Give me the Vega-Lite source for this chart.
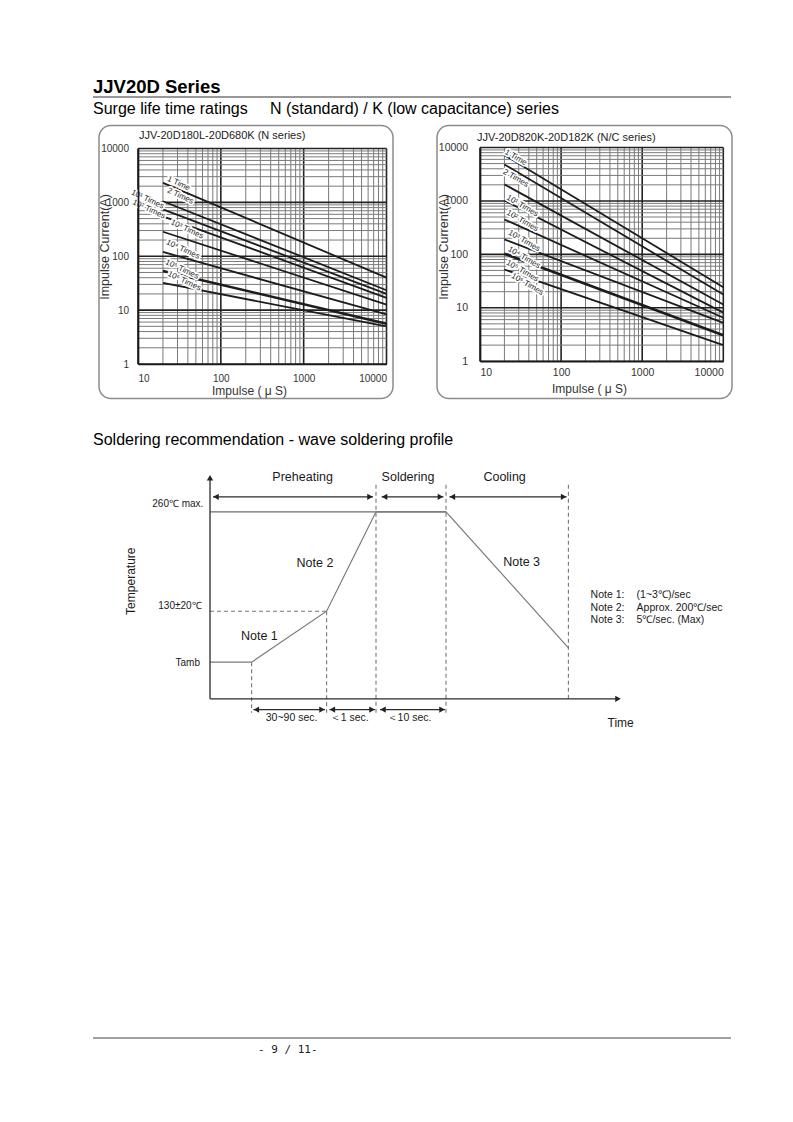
{
  "$schema": "https://vega.github.io/schema/vega-lite/v6.json",
  "padding": {"left": 93, "top": 77.5, "right": 0, "bottom": 0},
  "background": "white",
  "spacing": 0,
  "datasets": {
    "xgrid": [{"v":10},{"v":20},{"v":30},{"v":40},{"v":50},{"v":60},{"v":70},{"v":80},{"v":90},{"v":100},{"v":200},{"v":300},{"v":400},{"v":500},{"v":600},{"v":700},{"v":800},{"v":900},{"v":1000},{"v":2000},{"v":3000},{"v":4000},{"v":5000},{"v":6000},{"v":7000},{"v":8000},{"v":9000},{"v":10000}],
    "ygrid": [{"v":1},{"v":2},{"v":3},{"v":4},{"v":5},{"v":6},{"v":7},{"v":8},{"v":9},{"v":10},{"v":20},{"v":30},{"v":40},{"v":50},{"v":60},{"v":70},{"v":80},{"v":90},{"v":100},{"v":200},{"v":300},{"v":400},{"v":500},{"v":600},{"v":700},{"v":800},{"v":900},{"v":1000},{"v":2000},{"v":3000},{"v":4000},{"v":5000},{"v":6000},{"v":7000},{"v":8000},{"v":9000},{"v":10000}],
    "curvesN": [
      {"series":"1 Time","x":20,"y":2300},{"series":"1 Time","x":10000,"y":40},
      {"series":"2 Times","x":20,"y":1050},{"series":"2 Times","x":10000,"y":23.4},
      {"series":"10¹ Times","x":20,"y":740},{"series":"10¹ Times","x":10000,"y":20.1},
      {"series":"10² Times","x":20,"y":550},{"series":"10² Times","x":10000,"y":16.9},
      {"series":"10³ Times","x":20,"y":285},{"series":"10³ Times","x":10000,"y":12.7},
      {"series":"10⁴ Times","x":20,"y":120},{"series":"10⁴ Times","x":10000,"y":8.3},
      {"series":"10⁵ Times","x":20,"y":53},{"series":"10⁵ Times","x":10000,"y":5.6},
      {"series":"10⁶ Times","x":20,"y":32},{"series":"10⁶ Times","x":10000,"y":5.0}
    ],
    "curvesNC": [
      {"series":"1 Time","x":20,"y":7200},{"series":"1 Time","x":10000,"y":24.3},
      {"series":"2 Times","x":20,"y":4820},{"series":"2 Times","x":10000,"y":17.7},
      {"series":"10¹ Times","x":20,"y":2040},{"series":"10¹ Times","x":10000,"y":11.5},
      {"series":"10² Times","x":20,"y":1020},{"series":"10² Times","x":10000,"y":8.1},
      {"series":"10³ Times","x":20,"y":450},{"series":"10³ Times","x":10000,"y":6.5},
      {"series":"10⁴ Times","x":20,"y":190},{"series":"10⁴ Times","x":10000,"y":5.2},
      {"series":"10⁵ Times","x":20,"y":103},{"series":"10⁵ Times","x":10000,"y":3.07},
      {"series":"10⁶ Times","x":20,"y":52},{"series":"10⁶ Times","x":10000,"y":2.0}
    ],
    "labelsN": [
      {"label":"1 Time","x":30.9,"y":2213},
      {"label":"2 Times","x":32.4,"y":1303},
      {"label":"10¹ Times","x":13.0,"y":1130},
      {"label":"10² Times","x":13.5,"y":738},
      {"label":"10³ Times","x":39,"y":314},
      {"label":"10⁴ Times","x":34.8,"y":133},
      {"label":"10⁵ Times","x":33.9,"y":56.8},
      {"label":"10⁶ Times","x":36.1,"y":34.4}
    ],
    "labelsNC": [
      {"label":"1 Time","x":27.5,"y":6440},
      {"label":"2 Times","x":27.5,"y":2640},
      {"label":"10¹ Times","x":33.2,"y":799},
      {"label":"10² Times","x":33.2,"y":419},
      {"label":"10³ Times","x":34.9,"y":177},
      {"label":"10⁴ Times","x":34.9,"y":86},
      {"label":"10⁵ Times","x":33.2,"y":48.4},
      {"label":"10⁶ Times","x":38.3,"y":27.3}
    ]
  },
  "vconcat": [
    {
      "width": 638, "height": 1,
      "view": {"fill": "#333333", "stroke": null},
      "data": {"values": []},
      "mark": "point",
      "title": {"text": "JJV20D Series", "anchor": "start", "orient": "top", "offset": 0, "fontSize": 18.5, "fontWeight": "bold", "color": "#000000"}
    },
    {"width": 1, "height": 2.5, "data": {"values": []}, "mark": "point"},
    {
      "title": {"text": "Surge life time ratings\u00a0\u00a0\u00a0\u00a0\u00a0N (standard) / K (low capacitance) series", "anchor": "start", "orient": "top", "offset": 8, "fontSize": 16, "fontWeight": "normal", "color": "#000000"},
      "spacing": 3,
      "hconcat": [
        {"width": 1, "height": 273, "data": {"values": []}, "mark": "point"},
        {
          "spacing": 42,
          "hconcat": [
            {
              "width": 294, "height": 273,
              "view": {"stroke": "#8c8c8c", "strokeWidth": 1.5, "cornerRadius": 12, "fill": "white"},
              "resolve": {"axis": {"x": "independent", "y": "independent"}},
              "layer": [
                {
                  "data": {"name": "xgrid"}, "mark": {"type": "rule"},
                  "encoding": {
                    "x": {"field": "v", "type": "quantitative", "scale": {"type": "log", "domain": [10, 10000], "range": [39, 287.5], "nice": false},
                      "axis": {"orient": "bottom", "values": [10, 100, 1000, 10000], "format": "d", "grid": false, "ticks": false, "offset": -34.5, "zindex": 1, "domainColor": "#1a1a1a", "domainWidth": 1.7, "labelFontSize": 10, "labelColor": "#333333", "labelPadding": 9, "labelFlush": true, "title": "Impulse ( μ S)", "titleFontSize": 12, "titleFontWeight": "normal", "titleColor": "#333333", "titlePadding": 2, "titleX": 150}},
                    "y": {"datum": 1, "type": "quantitative", "scale": {"type": "log", "domain": [1, 10000], "range": [238.5, 23], "nice": false}, "axis": null},
                    "y2": {"datum": 10000},
                    "color": {"condition": {"test": "datum.v==10||datum.v==100||datum.v==1000||datum.v==10000", "value": "#222222"}, "value": "#7a7a7a"},
                    "strokeWidth": {"condition": {"test": "datum.v==10||datum.v==100||datum.v==1000||datum.v==10000", "value": 1.6}, "value": 1}
                  }
                },
                {
                  "data": {"name": "ygrid"}, "mark": {"type": "rule"},
                  "encoding": {
                    "y": {"field": "v", "type": "quantitative", "scale": {"type": "log", "domain": [1, 10000], "range": [238.5, 23], "nice": false},
                      "axis": {"orient": "left", "values": [1, 10, 100, 1000, 10000], "format": "d", "grid": false, "ticks": false, "offset": -39, "zindex": 1, "domainColor": "#1a1a1a", "domainWidth": 1.7, "labelFontSize": 10, "labelColor": "#333333", "labelPadding": 9.5, "title": "Impulse Current(A)", "titleFontSize": 12.5, "titleFontWeight": "normal", "titleColor": "#333333", "titlePadding": -10.5, "titleY": 121}},
                    "x": {"datum": 10, "type": "quantitative", "scale": {"type": "log", "domain": [10, 10000], "range": [39, 287.5], "nice": false}, "axis": null},
                    "x2": {"datum": 10000},
                    "color": {"condition": {"test": "datum.v==1||datum.v==10||datum.v==100||datum.v==1000||datum.v==10000", "value": "#222222"}, "value": "#7a7a7a"},
                    "strokeWidth": {"condition": {"test": "datum.v==1||datum.v==10||datum.v==100||datum.v==1000||datum.v==10000", "value": 1.6}, "value": 1}
                  }
                },
                {
                  "data": {"name": "curvesN"}, "mark": {"type": "line", "color": "#1c1c1c"},
                  "encoding": {
                    "x": {"field": "x", "type": "quantitative", "scale": {"type": "log", "domain": [10, 10000], "range": [39, 287.5], "nice": false}, "axis": null},
                    "y": {"field": "y", "type": "quantitative", "scale": {"type": "log", "domain": [1, 10000], "range": [238.5, 23], "nice": false}, "axis": null},
                    "detail": {"field": "series"},
                    "strokeWidth": {"condition": {"test": "datum.series==='10⁵ Times'", "value": 2.6}, "value": 1.8}
                  }
                },
                {
                  "data": {"name": "labelsN"},
                  "mark": {"type": "text", "angle": 25, "fontSize": 8, "fill": "white", "stroke": "white", "strokeWidth": 3.5, "strokeJoin": "round"},
                  "encoding": {
                    "x": {"field": "x", "type": "quantitative", "scale": {"type": "log", "domain": [10, 10000], "range": [39, 287.5], "nice": false}, "axis": null},
                    "y": {"field": "y", "type": "quantitative", "scale": {"type": "log", "domain": [1, 10000], "range": [238.5, 23], "nice": false}, "axis": null},
                    "text": {"field": "label"}
                  }
                },
                {
                  "data": {"name": "labelsN"},
                  "mark": {"type": "text", "angle": 25, "fontSize": 8, "fill": "#222222"},
                  "encoding": {
                    "x": {"field": "x", "type": "quantitative", "scale": {"type": "log", "domain": [10, 10000], "range": [39, 287.5], "nice": false}, "axis": null},
                    "y": {"field": "y", "type": "quantitative", "scale": {"type": "log", "domain": [1, 10000], "range": [238.5, 23], "nice": false}, "axis": null},
                    "text": {"field": "label"}
                  }
                },
                {
                  "data": {"values": [{"label": "JJV-20D180L-20D680K (N series)", "x": 10.3, "y": 17060}]},
                  "mark": {"type": "text", "align": "left", "baseline": "middle", "fontSize": 11, "fill": "#222222"},
                  "encoding": {
                    "x": {"field": "x", "type": "quantitative", "scale": {"type": "log", "domain": [10, 10000], "range": [39, 287.5], "nice": false}, "axis": null},
                    "y": {"field": "y", "type": "quantitative", "scale": {"type": "log", "domain": [1, 10000], "range": [238.5, 23], "nice": false}, "axis": null},
                    "text": {"field": "label"}
                  }
                }
              ]
            },
            {
              "width": 295, "height": 273,
              "view": {"stroke": "#8c8c8c", "strokeWidth": 1.5, "cornerRadius": 12, "fill": "white"},
              "resolve": {"axis": {"x": "independent", "y": "independent"}},
              "layer": [
                {
                  "data": {"name": "xgrid"}, "mark": {"type": "rule"},
                  "encoding": {
                    "x": {"field": "v", "type": "quantitative", "scale": {"type": "log", "domain": [10, 10000], "range": [43, 286.3], "nice": false},
                      "axis": {"orient": "bottom", "values": [10, 100, 1000, 10000], "format": "d", "grid": false, "ticks": false, "offset": -37.3, "zindex": 1, "domainColor": "#1a1a1a", "domainWidth": 1.7, "labelFontSize": 10.5, "labelColor": "#333333", "labelPadding": 6.5, "labelFlush": true, "title": "Impulse ( μ S)", "titleFontSize": 12, "titleFontWeight": "normal", "titleColor": "#333333", "titlePadding": 5, "titleX": 152}},
                    "y": {"datum": 1, "type": "quantitative", "scale": {"type": "log", "domain": [1, 10000], "range": [235.7, 22], "nice": false}, "axis": null},
                    "y2": {"datum": 10000},
                    "color": {"condition": {"test": "datum.v==10||datum.v==100||datum.v==1000||datum.v==10000", "value": "#222222"}, "value": "#7a7a7a"},
                    "strokeWidth": {"condition": {"test": "datum.v==10||datum.v==100||datum.v==1000||datum.v==10000", "value": 1.6}, "value": 1}
                  }
                },
                {
                  "data": {"name": "ygrid"}, "mark": {"type": "rule"},
                  "encoding": {
                    "y": {"field": "v", "type": "quantitative", "scale": {"type": "log", "domain": [1, 10000], "range": [235.7, 22], "nice": false},
                      "axis": {"orient": "left", "values": [1, 10, 100, 1000, 10000], "format": "d", "grid": false, "ticks": false, "offset": -43, "zindex": 1, "domainColor": "#1a1a1a", "domainWidth": 1.7, "labelFontSize": 10.5, "labelColor": "#333333", "labelPadding": 12.5, "title": "Impulse Current(A)", "titleFontSize": 12.5, "titleFontWeight": "normal", "titleColor": "#333333", "titlePadding": -12, "titleY": 121}},
                    "x": {"datum": 10, "type": "quantitative", "scale": {"type": "log", "domain": [10, 10000], "range": [43, 286.3], "nice": false}, "axis": null},
                    "x2": {"datum": 10000},
                    "color": {"condition": {"test": "datum.v==1||datum.v==10||datum.v==100||datum.v==1000||datum.v==10000", "value": "#222222"}, "value": "#7a7a7a"},
                    "strokeWidth": {"condition": {"test": "datum.v==1||datum.v==10||datum.v==100||datum.v==1000||datum.v==10000", "value": 1.6}, "value": 1}
                  }
                },
                {
                  "data": {"name": "curvesNC"}, "mark": {"type": "line", "color": "#1c1c1c"},
                  "encoding": {
                    "x": {"field": "x", "type": "quantitative", "scale": {"type": "log", "domain": [10, 10000], "range": [43, 286.3], "nice": false}, "axis": null},
                    "y": {"field": "y", "type": "quantitative", "scale": {"type": "log", "domain": [1, 10000], "range": [235.7, 22], "nice": false}, "axis": null},
                    "detail": {"field": "series"},
                    "strokeWidth": {"condition": {"test": "datum.series==='10⁵ Times'", "value": 2.6}, "value": 1.8}
                  }
                },
                {
                  "data": {"name": "labelsNC"},
                  "mark": {"type": "text", "angle": 30, "fontSize": 8, "fill": "white", "stroke": "white", "strokeWidth": 3.5, "strokeJoin": "round"},
                  "encoding": {
                    "x": {"field": "x", "type": "quantitative", "scale": {"type": "log", "domain": [10, 10000], "range": [43, 286.3], "nice": false}, "axis": null},
                    "y": {"field": "y", "type": "quantitative", "scale": {"type": "log", "domain": [1, 10000], "range": [235.7, 22], "nice": false}, "axis": null},
                    "text": {"field": "label"}
                  }
                },
                {
                  "data": {"name": "labelsNC"},
                  "mark": {"type": "text", "angle": 30, "fontSize": 8, "fill": "#222222"},
                  "encoding": {
                    "x": {"field": "x", "type": "quantitative", "scale": {"type": "log", "domain": [10, 10000], "range": [43, 286.3], "nice": false}, "axis": null},
                    "y": {"field": "y", "type": "quantitative", "scale": {"type": "log", "domain": [1, 10000], "range": [235.7, 22], "nice": false}, "axis": null},
                    "text": {"field": "label"}
                  }
                },
                {
                  "data": {"values": [{"label": "JJV-20D820K-20D182K (N/C series)", "x": 9.2, "y": 15250}]},
                  "mark": {"type": "text", "align": "left", "baseline": "middle", "fontSize": 11, "fill": "#222222"},
                  "encoding": {
                    "x": {"field": "x", "type": "quantitative", "scale": {"type": "log", "domain": [10, 10000], "range": [43, 286.3], "nice": false}, "axis": null},
                    "y": {"field": "y", "type": "quantitative", "scale": {"type": "log", "domain": [1, 10000], "range": [235.7, 22], "nice": false}, "axis": null},
                    "text": {"field": "label"}
                  }
                }
              ]
            }
          ]
        }
      ]
    },
    {"width": 1, "height": 32, "data": {"values": []}, "mark": "point"},
    {
      "width": 640, "height": 285,
      "title": {"text": "Soldering recommendation - wave soldering profile", "anchor": "start", "orient": "top", "offset": 7, "fontSize": 16, "fontWeight": "normal", "color": "#000000"},
      "layer": [
        {
          "data": {"values": [
            {"t":0,"t2":58.3,"T":43.8,"T2":43.8},
            {"t":20.8,"t2":20.8,"T":18.3,"T2":-7},
            {"t":58.3,"t2":58.3,"T":43.8,"T2":-7},
            {"t":83,"t2":83,"T":107,"T2":-7},
            {"t":118,"t2":118,"T":107,"T2":-7},
            {"t":179.2,"t2":179.2,"T":107,"T2":0}
          ]},
          "mark": {"type": "rule", "color": "#777777", "strokeWidth": 1.1, "strokeDash": [4, 3]},
          "encoding": {
            "x": {"field": "t", "type": "quantitative", "scale": {"domain": [-58.5, 261.5], "nice": false, "zero": false}, "axis": null},
            "x2": {"field": "t2"},
            "y": {"field": "T", "type": "quantitative", "scale": {"domain": [-20.35, 122.15], "nice": false, "zero": false}, "axis": null},
            "y2": {"field": "T2"}
          }
        },
        {
          "data": {"values": [{"t":0,"t2":118,"T":93.5,"T2":93.5}]},
          "mark": {"type": "rule", "color": "#6e6e6e", "strokeWidth": 1.2},
          "encoding": {
            "x": {"field": "t", "type": "quantitative", "scale": {"domain": [-58.5, 261.5], "nice": false, "zero": false}, "axis": null},
            "x2": {"field": "t2"},
            "y": {"field": "T", "type": "quantitative", "scale": {"domain": [-20.35, 122.15], "nice": false, "zero": false}, "axis": null},
            "y2": {"field": "T2"}
          }
        },
        {
          "data": {"values": [
            {"i":0,"t":0,"T":18.3},{"i":1,"t":20.8,"T":18.3},{"i":2,"t":58.3,"T":43.8},
            {"i":3,"t":83,"T":93.5},{"i":4,"t":118,"T":93.5},{"i":5,"t":179.2,"T":25.5}
          ]},
          "mark": {"type": "line", "color": "#7a7a7a", "strokeWidth": 1.2},
          "encoding": {
            "x": {"field": "t", "type": "quantitative", "scale": {"domain": [-58.5, 261.5], "nice": false, "zero": false}, "axis": null},
            "y": {"field": "T", "type": "quantitative", "scale": {"domain": [-20.35, 122.15], "nice": false, "zero": false}, "axis": null},
            "order": {"field": "i"}
          }
        },
        {
          "data": {"values": [
            {"t":0,"t2":0,"T":0,"T2":110.5},
            {"t":0,"t2":204,"T":0,"T2":0},
            {"t":1.5,"t2":81.5,"T":101,"T2":101},
            {"t":85.8,"t2":116.7,"T":101,"T2":101},
            {"t":119.7,"t2":178.3,"T":101,"T2":101},
            {"t":21.7,"t2":57.5,"T":-5.4,"T2":-5.4},
            {"t":59.7,"t2":82.5,"T":-5.4,"T2":-5.4},
            {"t":85,"t2":117.5,"T":-5.4,"T2":-5.4}
          ]},
          "mark": {"type": "rule", "color": "#2a2a2a", "strokeWidth": 1.3},
          "encoding": {
            "x": {"field": "t", "type": "quantitative", "scale": {"domain": [-58.5, 261.5], "nice": false, "zero": false}, "axis": null},
            "x2": {"field": "t2"},
            "y": {"field": "T", "type": "quantitative", "scale": {"domain": [-20.35, 122.15], "nice": false, "zero": false}, "axis": null},
            "y2": {"field": "T2"}
          }
        },
        {
          "data": {"values": [
            {"t":0,"T":110.5,"dir":"up"},{"t":204,"T":0,"dir":"right"},
            {"t":3,"T":101,"dir":"left"},{"t":80,"T":101,"dir":"right"},
            {"t":87.3,"T":101,"dir":"left"},{"t":115.2,"T":101,"dir":"right"},
            {"t":121.2,"T":101,"dir":"left"},{"t":176.8,"T":101,"dir":"right"},
            {"t":23.2,"T":-5.4,"dir":"left"},{"t":56,"T":-5.4,"dir":"right"},
            {"t":61.2,"T":-5.4,"dir":"left"},{"t":81,"T":-5.4,"dir":"right"},
            {"t":86.5,"T":-5.4,"dir":"left"},{"t":116,"T":-5.4,"dir":"right"}
          ]},
          "mark": {"type": "point", "filled": true, "size": 40, "color": "#222222", "opacity": 1},
          "encoding": {
            "x": {"field": "t", "type": "quantitative", "scale": {"domain": [-58.5, 261.5], "nice": false, "zero": false}, "axis": null},
            "y": {"field": "T", "type": "quantitative", "scale": {"domain": [-20.35, 122.15], "nice": false, "zero": false}, "axis": null},
            "shape": {"field": "dir", "type": "nominal", "scale": {"domain": ["up", "right", "left"], "range": ["triangle-up", "triangle-right", "triangle-left"]}, "legend": null}
          }
        },
        {
          "data": {"values": [
            {"label":"Preheating","t":46.3,"T":111},
            {"label":"Soldering","t":99,"T":111},
            {"label":"Cooling","t":147.3,"T":111},
            {"label":"Note 2","t":52.5,"T":68},
            {"label":"Note 1","t":24.7,"T":31.3},
            {"label":"Note 3","t":155.8,"T":68.3}
          ]},
          "mark": {"type": "text", "align": "center", "baseline": "middle", "fontSize": 12.5, "fill": "#1a1a1a"},
          "encoding": {
            "x": {"field": "t", "type": "quantitative", "scale": {"domain": [-58.5, 261.5], "nice": false, "zero": false}, "axis": null},
            "y": {"field": "T", "type": "quantitative", "scale": {"domain": [-20.35, 122.15], "nice": false, "zero": false}, "axis": null},
            "text": {"field": "label"}
          }
        },
        {
          "data": {"values": [
            {"label":"260℃ max.","t":-3.3,"T":97.2},
            {"label":"130±20℃","t":-4.2,"T":46.3},
            {"label":"Tamb","t":-5,"T":18}
          ]},
          "mark": {"type": "text", "align": "right", "baseline": "middle", "fontSize": 10, "fill": "#1a1a1a"},
          "encoding": {
            "x": {"field": "t", "type": "quantitative", "scale": {"domain": [-58.5, 261.5], "nice": false, "zero": false}, "axis": null},
            "y": {"field": "T", "type": "quantitative", "scale": {"domain": [-20.35, 122.15], "nice": false, "zero": false}, "axis": null},
            "text": {"field": "label"}
          }
        },
        {
          "data": {"values": [
            {"label":"Note 1:","t":190.3,"T":51.7},
            {"label":"(1~3℃)/sec","t":213.3,"T":51.7},
            {"label":"Note 2:","t":190.3,"T":45.5},
            {"label":"Approx. 200℃/sec","t":213.3,"T":45.5},
            {"label":"Note 3:","t":190.3,"T":39.3},
            {"label":"5℃/sec. (Max)","t":213.3,"T":39.3}
          ]},
          "mark": {"type": "text", "align": "left", "baseline": "middle", "fontSize": 10.5, "fill": "#1a1a1a"},
          "encoding": {
            "x": {"field": "t", "type": "quantitative", "scale": {"domain": [-58.5, 261.5], "nice": false, "zero": false}, "axis": null},
            "y": {"field": "T", "type": "quantitative", "scale": {"domain": [-20.35, 122.15], "nice": false, "zero": false}, "axis": null},
            "text": {"field": "label"}
          }
        },
        {
          "data": {"values": [
            {"label":"30~90 sec.","t":40.8,"T":-9.5},
            {"label":"＜1 sec.","t":69.6,"T":-9.5},
            {"label":"＜10 sec.","t":99.5,"T":-9.5}
          ]},
          "mark": {"type": "text", "align": "center", "baseline": "middle", "fontSize": 10.5, "fill": "#1a1a1a"},
          "encoding": {
            "x": {"field": "t", "type": "quantitative", "scale": {"domain": [-58.5, 261.5], "nice": false, "zero": false}, "axis": null},
            "y": {"field": "T", "type": "quantitative", "scale": {"domain": [-20.35, 122.15], "nice": false, "zero": false}, "axis": null},
            "text": {"field": "label"}
          }
        },
        {
          "data": {"values": [{"label":"Time","t":205.3,"T":-12}]},
          "mark": {"type": "text", "align": "center", "baseline": "middle", "fontSize": 12, "fill": "#1a1a1a"},
          "encoding": {
            "x": {"field": "t", "type": "quantitative", "scale": {"domain": [-58.5, 261.5], "nice": false, "zero": false}, "axis": null},
            "y": {"field": "T", "type": "quantitative", "scale": {"domain": [-20.35, 122.15], "nice": false, "zero": false}, "axis": null},
            "text": {"field": "label"}
          }
        },
        {
          "data": {"values": [{"label":"Temperature","t":-39.75,"T":58.8}]},
          "mark": {"type": "text", "align": "center", "baseline": "middle", "fontSize": 12, "angle": 270, "fill": "#1a1a1a"},
          "encoding": {
            "x": {"field": "t", "type": "quantitative", "scale": {"domain": [-58.5, 261.5], "nice": false, "zero": false}, "axis": null},
            "y": {"field": "T", "type": "quantitative", "scale": {"domain": [-20.35, 122.15], "nice": false, "zero": false}, "axis": null},
            "text": {"field": "label"}
          }
        }
      ]
    },
    {"width": 1, "height": 297.5, "data": {"values": []}, "mark": "point"},
    {
      "width": 638, "height": 1,
      "view": {"fill": "#444444", "stroke": null},
      "data": {"values": []},
      "mark": "point",
      "title": {"text": "- 9 / 11-", "orient": "bottom", "anchor": "start", "dx": 165, "offset": 5, "fontSize": 11, "font": "DejaVu Sans Mono", "fontWeight": "normal", "color": "#222222"}
    }
  ],
  "config": {
    "view": {"stroke": null},
    "font": "Liberation Sans",
    "title": {"font": "Liberation Sans"},
    "axis": {"labelFont": "Liberation Sans", "titleFont": "Liberation Sans"},
    "text": {"font": "Liberation Sans"}
  }
}
